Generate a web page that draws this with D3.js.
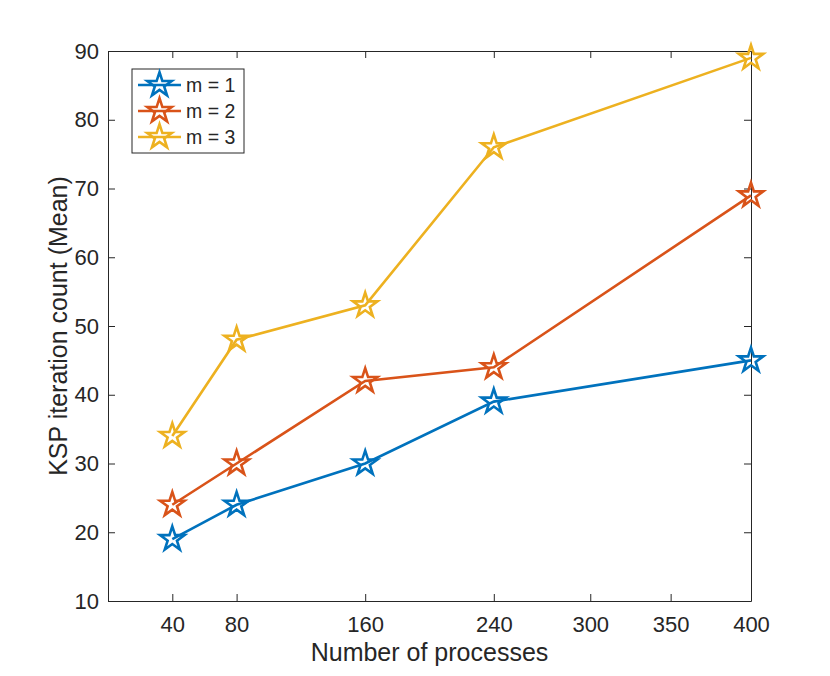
<!DOCTYPE html>
<html>
<head>
<meta charset="utf-8">
<script src="https://cdn.jsdelivr.net/npm/d3@7"></script>
<style>
  body { margin: 0; background: #fff; }
  text { font-family: "Liberation Sans", Arial, sans-serif; fill: #262626; }
</style>
</head>
<body>
<div id="chart"></div>
<script>
// data
const processes = [40, 80, 160, 240, 400];
const m1 = [19, 24, 30, 39, 45];
const m2 = [24, 30, 42, 44, 69];
const m3 = [34, 48, 53, 76, 89];
const seriesNames = ["m = 1", "m = 2", "m = 3"];
const seriesColors = ["#0072BD", "#D95319", "#EDB120"];
const xTicks = [40, 80, 160, 240, 300, 350, 400];
const yTicks = [10, 20, 30, 40, 50, 60, 70, 80, 90];

const W = 830, H = 676;
const margin = { top: 51, right: 79, bottom: 75, left: 108 };
const width = W - margin.left - margin.right;
const height = H - margin.top - margin.bottom;

const svg = d3.select("#chart").append("svg")
  .attr("width", W).attr("height", H);
const g = svg.append("g")
  .attr("transform", `translate(${margin.left},${margin.top})`);

const x = d3.scaleLinear().domain([0, 400]).range([0, width]);
const y = d3.scaleLinear().domain([10, 90]).range([height, 0]);

const axisColor = "#262626";
const tickLen = 7;

// bottom / left axes, ticks pointing inward like matlab
g.append("g")
  .attr("transform", `translate(0,${height})`)
  .call(d3.axisBottom(x).tickValues(xTicks).tickSizeInner(-tickLen).tickSizeOuter(0).tickPadding(15));
g.append("g")
  .call(d3.axisLeft(y).tickValues(yTicks).tickSizeInner(-tickLen).tickSizeOuter(0).tickPadding(9));

// mirrored ticks on top / right (box on)
g.append("g")
  .call(d3.axisTop(x).tickValues(xTicks).tickSizeInner(-tickLen).tickSizeOuter(0).tickFormat(""));
g.append("g")
  .attr("transform", `translate(${width},0)`)
  .call(d3.axisRight(y).tickValues(yTicks).tickSizeInner(-tickLen).tickSizeOuter(0).tickFormat(""));

g.selectAll(".domain").attr("stroke", axisColor).attr("stroke-width", 1);
g.selectAll(".tick line").attr("stroke", axisColor).attr("stroke-width", 1);
g.selectAll(".tick text")
  .attr("font-size", 22)
  .attr("font-family", "Liberation Sans, Arial, sans-serif")
  .attr("fill", axisColor);

// axis labels
g.append("text")
  .attr("x", width / 2)
  .attr("y", height + 60)
  .attr("text-anchor", "middle")
  .attr("font-size", 25)
  .text("Number of processes");

g.append("text")
  .attr("transform", `translate(${58 - margin.left},${height / 2}) rotate(-90)`)
  .attr("text-anchor", "middle")
  .attr("dominant-baseline", "central")
  .attr("font-size", 25)
  .text("KSP iteration count (Mean)");

const series = [m1, m2, m3];
const line = d3.line()
  .x((d, i) => x(processes[i]))
  .y(d => y(d));

const star = d3.symbol().type(d3.symbolStar).size(185);

series.forEach((vals, k) => {
  g.append("path")
    .datum(vals)
    .attr("d", line)
    .attr("fill", "none")
    .attr("stroke", seriesColors[k])
    .attr("stroke-width", 2.6);

  g.selectAll(".mk" + k)
    .data(vals)
    .enter().append("path")
    .attr("class", "mk" + k)
    .attr("d", star)
    .attr("transform", (d, i) => `translate(${x(processes[i])},${y(d)})`)
    .attr("fill", "none")
    .attr("stroke", seriesColors[k])
    .attr("stroke-width", 2.6);
});

// legend
const legend = svg.append("g").attr("transform", "translate(132,69)");
legend.append("rect")
  .attr("width", 112).attr("height", 84)
  .attr("fill", "#fff")
  .attr("stroke", axisColor)
  .attr("stroke-width", 1);

seriesNames.forEach((name, k) => {
  const ly = 16 + k * 26;
  legend.append("line")
    .attr("x1", 6).attr("x2", 49)
    .attr("y1", ly).attr("y2", ly)
    .attr("stroke", seriesColors[k])
    .attr("stroke-width", 2.6);
  legend.append("path")
    .attr("d", star)
    .attr("transform", `translate(27.5,${ly})`)
    .attr("fill", "none")
    .attr("stroke", seriesColors[k])
    .attr("stroke-width", 2.6);
  legend.append("text")
    .attr("x", 54)
    .attr("y", ly)
    .attr("dominant-baseline", "central")
    .attr("font-size", 19.5)
    .text(name);
});
</script>
</body>
</html>
